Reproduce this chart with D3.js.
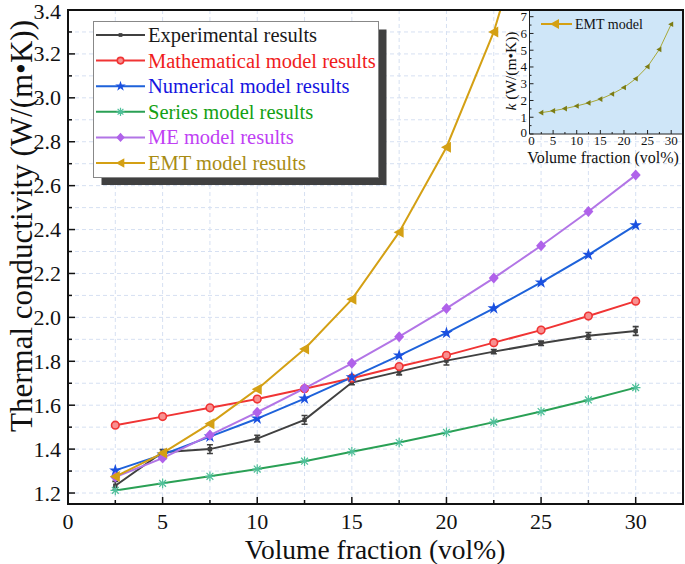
<!DOCTYPE html>
<html><head><meta charset="utf-8">
<script src="https://cdn.jsdelivr.net/npm/d3@7"></script>
<style>body{margin:0;background:#fff}svg{display:block;font-family:"Liberation Serif","Times New Roman",serif}</style>
</head><body>
<svg id="c" width="685" height="564"></svg>
<script>
const xs = [2.5,5,7.5,10,12.5,15,17.5,20,22.5,25,27.5,30];
const experimental = [1.233,1.386,1.400,1.448,1.533,1.703,1.753,1.803,1.844,1.882,1.916,1.938];
const experimentalErr = [0.02,0.012,0.02,0.015,0.02,0.01,0.015,0.02,0.01,0.01,0.015,0.02];
const mathematical = [1.509,1.548,1.588,1.628,1.675,1.723,1.776,1.827,1.885,1.942,2.006,2.074];
const numerical = [1.303,1.375,1.457,1.539,1.630,1.727,1.826,1.929,2.041,2.159,2.285,2.420];
const seriesModel = [1.212,1.244,1.276,1.309,1.345,1.388,1.430,1.476,1.523,1.571,1.624,1.680];
const meModel = [1.273,1.359,1.464,1.568,1.677,1.791,1.912,2.041,2.179,2.326,2.482,2.648];
const emtModel = [1.275,1.382,1.516,1.673,1.856,2.082,2.388,2.775,3.300,4.02,5.05,6.55];
const legendLabels = ["Experimental results","Mathematical model results","Numerical model results","Series model results","ME model results","EMT model results"];
const xTicks = [0,5,10,15,20,25,30];
const yTicks = [1.2,1.4,1.6,1.8,2.0,2.2,2.4,2.6,2.8,3.0,3.2,3.4];
const insetYTicks = [0,1,2,3,4,5,6,7];

const svg = d3.select("#c");
const X0=68, X1=683, Y0=504, Y1=10;
const x = d3.scaleLinear([0,32.5],[X0,X1]);
const y = d3.scaleLinear([1.15,3.4],[Y0,Y1]);

// grid
const grid = svg.append("g").attr("stroke","#d6e0f2").attr("stroke-width",1).attr("stroke-dasharray","4,3");
d3.range(2.5,32.5,2.5).forEach(v=>grid.append("line").attr("x1",x(v)).attr("x2",x(v)).attr("y1",Y0).attr("y2",Y1));
d3.range(12,34,1).map(v=>v/10).forEach(v=>grid.append("line").attr("x1",X0).attr("x2",X1).attr("y1",y(v)).attr("y2",y(v)));

const defs = svg.append("defs");
defs.append("clipPath").attr("id","pc").append("rect").attr("x",X0).attr("y",Y1).attr("width",X1-X0).attr("height",Y0-Y1);

const specs = [
 {name:legendLabels[0], data:experimental, line:"#404040", mark:"#404040", text:"#1a1a1a", sym:"square"},
 {name:legendLabels[1], data:mathematical, line:"#f03434", mark:"#f03434", text:"#f01c1c", sym:"circle"},
 {name:legendLabels[2], data:numerical, line:"#1e62da", mark:"#1a50e0", text:"#1414e0", sym:"star"},
 {name:legendLabels[3], data:seriesModel, line:"#2aa055", mark:"#50c09a", text:"#14a014", sym:"asterisk"},
 {name:legendLabels[4], data:meModel, line:"#b275e6", mark:"#b062ea", text:"#c040f4", sym:"diamond"},
 {name:legendLabels[5], data:emtModel, line:"#d4a014", mark:"#d4a014", text:"#a88c14", sym:"tri"}
];

function drawMarker(g, sym, color, cx, cy, s){
  s = s||1;
  if(sym==="square") g.append("rect").attr("x",cx-2.2*s).attr("y",cy-2.2*s).attr("width",4.4*s).attr("height",4.4*s).attr("fill",color);
  else if(sym==="circle") { g.append("circle").attr("cx",cx).attr("cy",cy).attr("r",3.8*s).attr("fill","#f89090").attr("stroke",color).attr("stroke-width",1.6);
  }
  else if(sym==="star") g.append("path").attr("d",d3.symbol(d3.symbolStar, 48*s*s)()).attr("transform",`translate(${cx},${cy})`).attr("fill",color);
  else if(sym==="asterisk"){ const r=4.8*s; const p=[];
    for(let a=0;a<4;a++){const t=a*Math.PI/4; p.push(`M${cx-r*Math.cos(t)},${cy-r*Math.sin(t)}L${cx+r*Math.cos(t)},${cy+r*Math.sin(t)}`);}
    g.append("path").attr("d",p.join("")).attr("stroke",color).attr("stroke-width",1.2).attr("fill","none"); }
  else if(sym==="diamond") g.append("path").attr("d",`M${cx},${cy-5.5*s}L${cx+5*s},${cy}L${cx},${cy+5.5*s}L${cx-5*s},${cy}Z`).attr("fill",color);
  else if(sym==="tri") g.append("path").attr("d",`M${cx-5.5*s},${cy}L${cx+4.5*s},${cy-5.5*s}L${cx+4.5*s},${cy+5.5*s}Z`).attr("fill",color);
}

const plot = svg.append("g").attr("clip-path","url(#pc)");
const line = d3.line().x((d,i)=>x(xs[i])).y(d=>y(d));
specs.forEach((s,k)=>{
  plot.append("path").attr("d",line(s.data)).attr("fill","none").attr("stroke",s.line).attr("stroke-width",2);
});
// error bars
experimental.forEach((v,i)=>{
  const e=experimentalErr[i], cx=x(xs[i]);
  plot.append("path").attr("d",`M${cx},${y(v-e)}V${y(v+e)}M${cx-3},${y(v-e)}H${cx+3}M${cx-3},${y(v+e)}H${cx+3}`).attr("stroke","#404040").attr("stroke-width",1.6).attr("fill","none");
});
specs.forEach(s=>{
  s.data.forEach((v,i)=>drawMarker(plot,s.sym,s.mark,x(xs[i]),y(v)));
});

// axes
const ax = svg.append("g").attr("font-size",22).attr("fill","#111");
xTicks.forEach(v=>ax.append("text").attr("x",x(v)).attr("y",529).attr("text-anchor","middle").text(v));
yTicks.forEach(v=>ax.append("text").attr("x",61).attr("y",y(v)+7.5+(v===3.4?1.5:0)).attr("text-anchor","end").text(d3.format(".1f")(v)));
const tk = svg.append("g").attr("stroke","#111").attr("stroke-width",1.5);
d3.range(2.5,32.5,2.5).forEach(v=>{const L = (v%5===0)?7:4; tk.append("line").attr("x1",x(v)).attr("x2",x(v)).attr("y1",Y0).attr("y2",Y0-L);});
d3.range(12,34,1).map(v=>v/10).forEach(v=>{const L=(Math.round(v*10)%2===0)?7:4; tk.append("line").attr("x1",X0).attr("x2",X0+L).attr("y1",y(v)).attr("y2",y(v));});

svg.append("text").attr("x",375).attr("y",558.5).attr("text-anchor","middle").attr("font-size",27.5).attr("fill","#111").text("Volume fraction (vol%)");
svg.append("text").attr("transform","translate(32,226) rotate(-90)").attr("text-anchor","middle").attr("font-size",31).attr("fill","#111").text("Thermal conductivity (W/(m•K))");

// legend
const lg = svg.append("g");
lg.append("rect").attr("x",101.5).attr("y",29.5).attr("width",285).attr("height",155.5).attr("fill","#404040");
lg.append("rect").attr("x",93.5).attr("y",21.5).attr("width",285).attr("height",156).attr("fill","#fff").attr("stroke","#888").attr("stroke-width",1);
specs.forEach((s,k)=>{
  const cy = 35+k*25.6;
  lg.append("line").attr("x1",96).attr("x2",145).attr("y1",cy).attr("y2",cy).attr("stroke",s.line).attr("stroke-width",2);
  drawMarker(lg,s.sym,s.mark,120.5,cy,0.85);
  lg.append("text").attr("x",148).attr("y",cy+7).attr("font-size",20.5).attr("fill",s.text).text(s.name);
});

// inset
const ix = d3.scaleLinear([0,32.5],[529.5,683]);
const iy = d3.scaleLinear([0,7.4],[134,10]);
const ins = svg.append("g");
ins.append("rect").attr("x",529.5).attr("y",10).attr("width",683-529.5).attr("height",124).attr("fill","#cfe6f8");
const iline = d3.line().x((d,i)=>ix(xs[i])).y(d=>iy(d));
ins.append("path").attr("d",iline(emtModel)).attr("fill","none").attr("stroke","#a8a838").attr("stroke-width",1);
emtModel.forEach((v,i)=>{const cx=ix(xs[i]),cy=iy(v); ins.append("path").attr("d",`M${cx-3},${cy}L${cx+2},${cy-2.8}L${cx+2},${cy+2.8}Z`).attr("fill","#7c7c14");});
ins.append("path").attr("d","M529.5,10V134H683").attr("stroke","#222").attr("stroke-width",1).attr("fill","none");
const itk = ins.append("g").attr("stroke","#222").attr("stroke-width",1);
d3.range(2.5,32.5,2.5).forEach(v=>{const L=(v%5===0)?4:2; itk.append("line").attr("x1",ix(v)).attr("x2",ix(v)).attr("y1",134).attr("y2",134-L);});
d3.range(0,7.5,0.5).forEach(v=>{const L=(v%1===0)?4:2; itk.append("line").attr("x1",529.5).attr("x2",529.5+L).attr("y1",iy(v)).attr("y2",iy(v));});
const itx = ins.append("g").attr("font-size",13).attr("fill","#111");
xTicks.forEach(v=>itx.append("text").attr("x",ix(v)+(v===0?2:0)).attr("y",145).attr("text-anchor","middle").text(v));
insetYTicks.forEach(v=>itx.append("text").attr("x",527).attr("y",iy(v)+4.5-(v===0?2:0)).attr("text-anchor","end").text(v));
ins.append("text").attr("x",603).attr("y",163).attr("text-anchor","middle").attr("font-size",16).attr("fill","#111").text("Volume fraction (vol%)");
const yl = ins.append("text").attr("transform","translate(516,71) rotate(-90)").attr("text-anchor","middle").attr("font-size",15.5).attr("fill","#111");
yl.append("tspan").attr("font-style","italic").text("k");
yl.append("tspan").text(" (W/(m•K))");
ins.append("line").attr("x1",541).attr("x2",572).attr("y1",24).attr("y2",24).attr("stroke","#d4a014").attr("stroke-width",2);
ins.append("path").attr("d","M550,24L559,19L559,29Z").attr("fill","#d4a014");
ins.append("text").attr("x",575).attr("y",29).attr("font-size",14).attr("fill","#111").text("EMT model");

// frame
svg.append("rect").attr("x",X0).attr("y",Y1).attr("width",X1-X0).attr("height",Y0-Y1).attr("fill","none").attr("stroke","#111").attr("stroke-width",2);
</script>
</body></html>
